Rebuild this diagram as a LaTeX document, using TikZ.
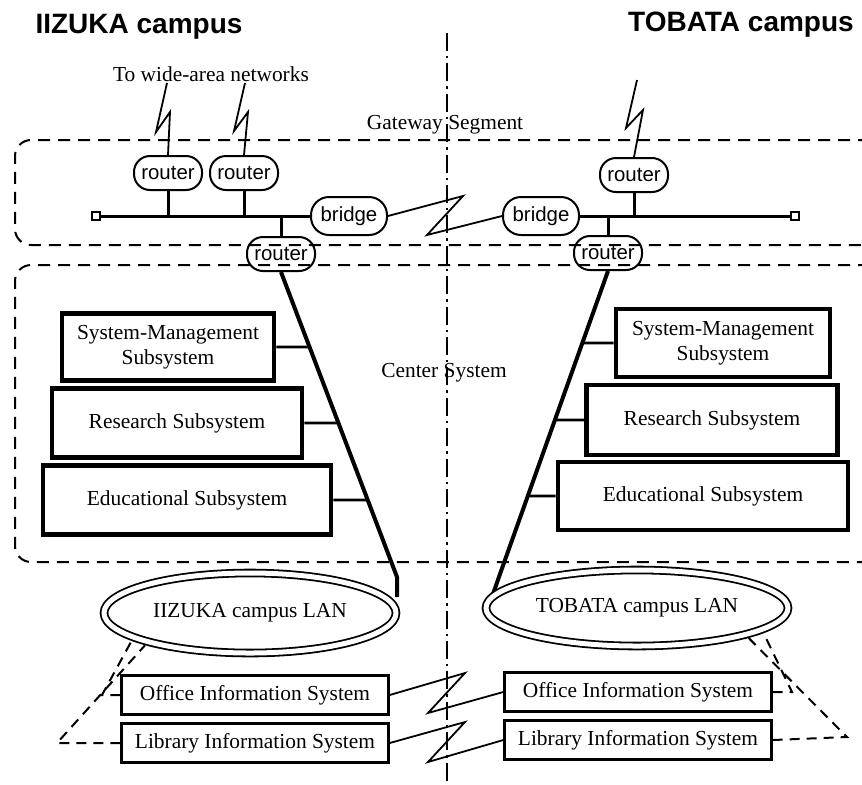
\documentclass[tikz,border=0pt]{standalone}
\usepackage{fontspec}
\setmainfont{Liberation Serif}
\newfontfamily\hv{Liberation Sans}
\usetikzlibrary{shapes.geometric,calc}
\begin{document}
\begin{tikzpicture}[x=0.5pt,y=-0.5pt,
  txt/.style={font=\fontsize{10.7}{12.5}\selectfont, inner sep=0pt},
  dev/.style={draw, line width=1pt, rounded corners=8pt, minimum width=34pt, minimum height=17pt, inner sep=0pt, font=\hv\fontsize{10.2}{12}\selectfont},
  brg/.style={dev, minimum width=38pt, minimum height=19pt, rounded corners=9pt},
  subbox/.style={draw, line width=2.4pt, inner sep=0pt, align=center, font=\fontsize{10.7}{12.5}\selectfont},
  infobox/.style={draw, line width=1.2pt, inner sep=0pt, minimum width=133.5pt, minimum height=19.5pt, font=\fontsize{10.7}{12.5}\selectfont},
  lan/.style={ellipse, draw, double, double distance=2.5pt, line width=0.9pt, inner sep=0pt, font=\fontsize{10.7}{12.5}\selectfont},
  segbox/.style={dash pattern=on 6pt off 4pt, line width=1pt, rounded corners=8pt},
  dsh/.style={dash pattern=on 5pt off 3.5pt, line width=1pt, shorten >=2pt},
  bus/.style={line width=1.5pt},
  trunk/.style={line width=2pt, line join=round},
  conn/.style={line width=1.4pt},
  bolt/.style={line width=0.9pt, line join=miter},
  title/.style={font=\hv\bfseries\fontsize{14}{16}\selectfont, inner sep=0pt},
  endsq/.style={draw, line width=0.9pt, minimum size=4pt, inner sep=0pt}
]
\useasboundingbox (0,0) rectangle (862,784);

% segment boxes
\draw[segbox] (870,140) -- (15,140) -- (15,245) -- (870,245);
\draw[segbox] (870,265) -- (15,265) -- (15,562) -- (870,562);

% titles and labels
\node[title] (tI) at (139,27) {IIZUKA campus};
\node[title] (tT) at (741,25) {TOBATA campus};
\node[txt] (wan) at (211,74) {To wide-area networks};
\node[txt] (gws) at (445,125) {Gateway Segment};
\node[txt] (css) at (444,373) {Center System};

% routers and bridges
\node[dev] (r1) at (168,173) {router};
\node[dev] (r2) at (244,173) {router};
\node[dev] (r3) at (281,254) {router};
\node[dev] (r4) at (634,175) {router};
\node[dev] (r5) at (608,253) {router};
\node[brg] (b1) at (349,216) {bridge};
\node[brg] (b2) at (541,216) {bridge};
\node[endsq] (s1) at (96,216) {};
\node[endsq] (s2) at (795,216) {};

% buses and stems
\draw[bus] (s1.east) -- (b1.west);
\draw[bus] (b2.east) -- (s2.west);
\draw[bus] (r1.south) -- (r1.south |- s1.east);
\draw[bus] (r2.south) -- (r2.south |- s1.east);
\draw[bus] (r3.north) -- (r3.north |- s1.east);
\draw[bus] (r4.south) -- (r4.south |- s2.west);
\draw[bus] (r5.north) -- (r5.north |- s2.west);

% wide-area bolts
\coordinate (w1) at (167,83);
\coordinate (w2) at (245,83);
\coordinate (w3) at (637,80);
\draw[bolt] (w1) -- (156,132) -- (170,112) -- (r1.north);
\draw[bolt] (w2) -- (234,131) -- (248,112) -- (r2.north);
\draw[bolt] (w3) -- (626,128) -- (643,110) -- (r4.north);
\draw[bolt] (b1.east) -- (463,196) -- (427,235) -- (b2.west);

% subsystems
\node[subbox, minimum width=106pt, minimum height=33.5pt] (smL) at (168,347) {System-Management\\Subsystem};
\node[subbox, minimum width=125pt, minimum height=34.5pt] (rsL) at (177,423) {Research Subsystem};
\node[subbox, minimum width=144pt, minimum height=34.5pt] (edL) at (187,500) {Educational Subsystem};
\node[subbox, minimum width=107pt, minimum height=34pt] (smR) at (723,343) {System-Management\\Subsystem};
\node[subbox, minimum width=125.5pt, minimum height=35pt] (rsR) at (712,420) {Research Subsystem};
\node[subbox, minimum width=145pt, minimum height=34pt] (edR) at (703,496) {Educational Subsystem};

% trunks (drawn before the LANs so the double outline lies on top)
\coordinate (bendL) at (397,577);
\coordinate (bendR) at (500,574);
\draw[trunk] (r3.south) -- (bendL) -- ++(0,20);
\draw[trunk] (r5.south) -- (bendR) -- ++(-7,20);

% LANs
\node[lan, minimum width=146pt, minimum height=40pt] (lanL) at (250,613) {IIZUKA campus LAN};
\node[lan, minimum width=151pt, minimum height=38pt] (lanR) at (637,608) {TOBATA campus LAN};

\coordinate (smLx) at ($(smL.east)+(80,0)$);
\coordinate (rsLx) at ($(rsL.east)+(80,0)$);
\coordinate (edLx) at ($(edL.east)+(80,0)$);
\coordinate (smRx) at ($(smR.west)+(-80,0)$);
\coordinate (rsRx) at ($(rsR.west)+(-80,0)$);
\coordinate (edRx) at ($(edR.west)+(-80,0)$);
\draw[conn] (smL.east) -- (intersection of smL.east--smLx and r3.south--bendL);
\draw[conn] (rsL.east) -- (intersection of rsL.east--rsLx and r3.south--bendL);
\draw[conn] (edL.east) -- (intersection of edL.east--edLx and r3.south--bendL);
\draw[conn] (smR.west) -- (intersection of smR.west--smRx and r5.south--bendR);
\draw[conn] (rsR.west) -- (intersection of rsR.west--rsRx and r5.south--bendR);
\draw[conn] (edR.west) -- (intersection of edR.west--edRx and r5.south--bendR);

% information systems
\node[infobox] (ofL) at (255,695) {Office Information System};
\node[infobox] (liL) at (255,743) {Library Information System};
\node[infobox] (ofR) at (638,692) {Office Information System};
\node[infobox] (liR) at (638,740) {Library Information System};
\draw[bolt] (ofL.east) -- (465,673) -- (428,713) -- (ofR.west);
\draw[bolt] (liL.east) -- (465,722) -- (428,762) -- (liR.west);

% dashed links to LANs
\draw[dsh] (ofL.west) -- (102,695) -- (lanL.192);
\draw[dsh] (liL.west) -- (57,743) -- (lanL.196);
\draw[dsh] (ofR.east) -- (792,692) -- (lanR.350);
\draw[dsh] (liR.east) -- (847,737) -- (lanR.346);

% campus divider
\draw[line width=1pt, dash pattern=on 9pt off 2.5pt on 1.2pt off 2.5pt] (447,33) -- (447,784);
\end{tikzpicture}
\end{document}
